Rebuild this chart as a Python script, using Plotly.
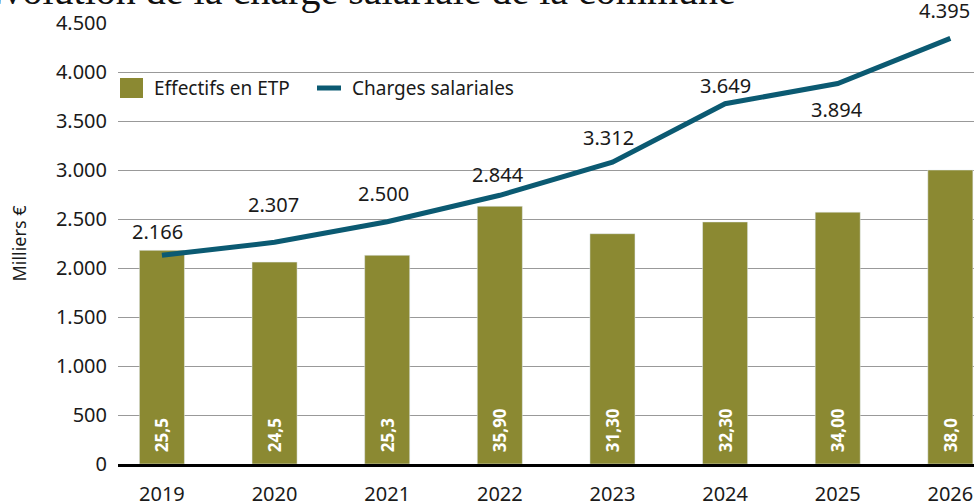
import plotly.graph_objects as go

years = ["2019", "2020", "2021", "2022", "2023", "2024", "2025", "2026"]
bar_heights = [2180, 2060, 2130, 2630, 2350, 2470, 2570, 3000]
etp_labels = ["25,5", "24,5", "25,3", "35,90", "31,30", "32,30", "34,00", "38,0"]
charges = [2130, 2262, 2472, 2742, 3080, 3676, 3883, 4343]
charge_labels = ["2.166", "2.307", "2.500", "2.844", "3.312", "3.649", "3.894", "4.395"]
label_yshift = [24, 38, 28, 21, 25, 18, -26, 28]
label_xshift = [-4, -1, -4, -2, -4, 0, -1, -6]

OLIVE = "#8B8932"
TEAL = "#0B5A72"
TXT = "#1a1a1a"
FONT = "Noto Sans"

W, H = 974, 503
ML, MR, MT, MB = 118, 0, 23, 39
PW, PH = W - ML - MR, H - MT - MB


def px(x):
    return (x - ML) / PW


def py(y):
    return (H - MB - y) / PH


fig = go.Figure()
fig.add_trace(go.Bar(
    x=years, y=bar_heights, width=0.40, marker_color=OLIVE,
    text=["\u00a0\u00a0" + t for t in etp_labels], textposition="inside",
    insidetextanchor="start", textangle=-90,
    textfont=dict(family=FONT, size=17, color="white", weight="bold"),
    showlegend=False, hoverinfo="skip",
))
fig.add_trace(go.Scatter(
    x=years, y=charges, mode="lines",
    line=dict(color=TEAL, width=5), showlegend=False, hoverinfo="skip",
))

for i, (v, lab, dy, dx) in enumerate(zip(charges, charge_labels, label_yshift, label_xshift)):
    fig.add_annotation(x=i, y=v, text=lab, showarrow=False, yshift=dy, xshift=dx,
                       font=dict(family=FONT, size=20, color=TXT))

# title (partly cut at top)
fig.add_annotation(xref="paper", yref="paper", x=px(738), y=1, xanchor="right",
                   yanchor="bottom", yshift=8, showarrow=False,
                   text="Évolution de la charge salariale de la commune",
                   font=dict(family="Liberation Serif", size=40, color="#111"))

# manual legend
fig.add_shape(type="rect", xref="paper", yref="paper",
              x0=px(120), x1=px(143), y0=py(98), y1=py(78),
              fillcolor=OLIVE, line=dict(width=0))
fig.add_annotation(xref="paper", yref="paper", x=px(152), y=py(88), xanchor="left",
                   yanchor="middle", showarrow=False, text="Effectifs en ETP",
                   font=dict(family=FONT, size=19, color=TXT))
fig.add_shape(type="line", xref="paper", yref="paper",
              x0=px(317), x1=px(341), y0=py(88), y1=py(88),
              line=dict(color=TEAL, width=5))
fig.add_annotation(xref="paper", yref="paper", x=px(350), y=py(88), xanchor="left",
                   yanchor="middle", showarrow=False, text="Charges salariales",
                   font=dict(family=FONT, size=19, color=TXT))

fig.update_layout(
    width=W, height=H,
    margin=dict(l=ML, r=MR, t=MT, b=MB, pad=0, autoexpand=False),
    paper_bgcolor="white", plot_bgcolor="white",
    separators=",.",
    bargap=0.6,
    font=dict(family=FONT, size=19, color=TXT),
    xaxis=dict(type="category", range=[-0.39, 7.21], showgrid=False, automargin=False,
               showline=True, linecolor="black", linewidth=3, ticks="",
               tickfont=dict(family=FONT, size=20, color=TXT), ticklabelstandoff=10),
    yaxis=dict(range=[0, 4500], tickvals=[0, 500, 1000, 1500, 2000, 2500, 3000, 3500, 4000, 4500],
               tickformat=",d", showgrid=True, gridcolor="#999999", gridwidth=1,
               zeroline=False, showline=False, ticks="", automargin=False,
               tickfont=dict(family=FONT, size=20, color=TXT), ticklabelstandoff=10,
               title=dict(text="Milliers €", font=dict(family=FONT, size=18, color=TXT),
                          standoff=24)),
)

fig.write_html("out.html", config={"displayModeBar": False},
               post_script="document.body.style.margin='0';")
